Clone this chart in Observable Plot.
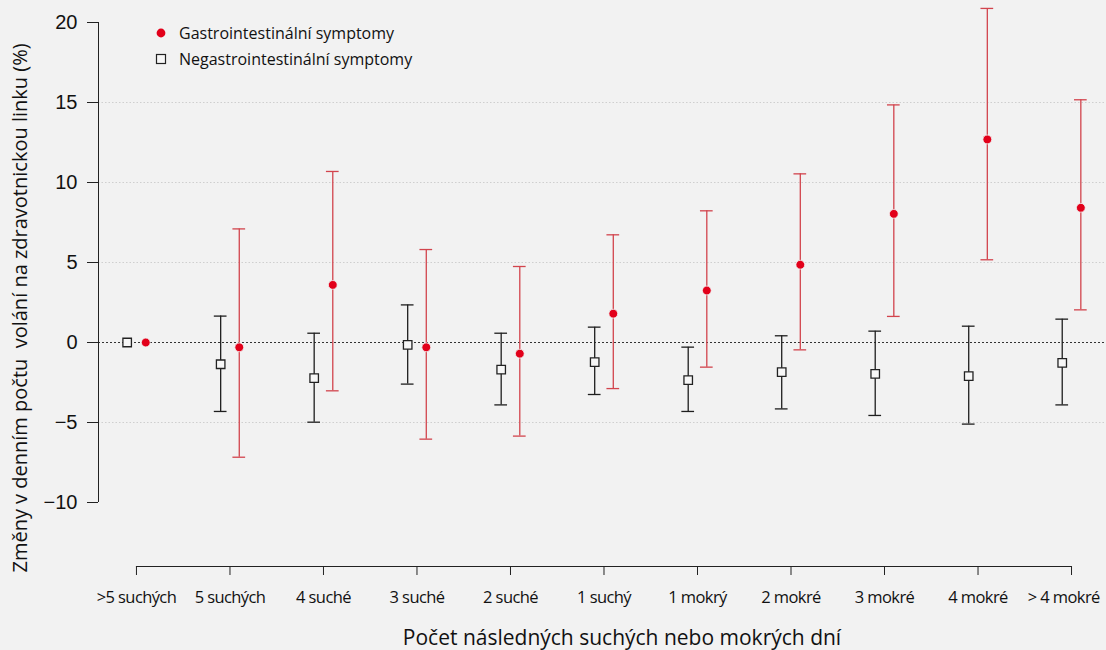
<!DOCTYPE html>
<html>
<head>
<meta charset="utf-8">
<script src="https://cdn.jsdelivr.net/npm/d3@7"></script>
<script src="https://cdn.jsdelivr.net/npm/@observablehq/plot@0.6"></script>
<style>
  html, body { margin: 0; padding: 0; background: #f2f2f2; }
  #wrap { position: relative; width: 1106px; height: 650px; background: #f2f2f2; overflow: hidden; }
  #ytitle { position: absolute; left: 19px; top: 308px; transform: translate(-50%, -50%) rotate(-90deg);
            white-space: pre; font-family: "Open Sans", sans-serif; font-size: 20px; font-weight: 500; color: #111; }
  #xtitle { position: absolute; left: 622px; top: 637px; transform: translate(-50%, -50%);
            white-space: pre; font-family: "Open Sans", sans-serif; font-size: 21px; color: #111; }
  #legend { position: absolute; left: 154px; top: 20px; font-family: "Open Sans", sans-serif; font-size: 16px; color: #111; }
  #legend .row { display: flex; align-items: center; height: 26px; }
  #legend svg { margin-right: 11px; }
</style>
</head>
<body>
<div id="wrap">
  <div id="chart"></div>
  <div id="ytitle"></div>
  <div id="xtitle"></div>
  <div id="legend"></div>
</div>
<script>
// Category tick labels
const categories = [">5 suchých", "5 suchých", "4 suché", "3 suché", "2 suché", "1 suchý",
                    "1 mokrý", "2 mokré", "3 mokré", "4 mokré", "> 4 mokré"];
// Gastrointestinal symptoms: estimate, lower and upper CI
const gastroEst = [0, -0.3, 3.6, -0.3, -0.7, 1.8, 3.25, 4.86, 8.04, 12.69, 8.42];
const gastroLo  = [null, -7.17, -3.02, -6.04, -5.85, -2.88, -1.54, -0.46, 1.63, 5.17, 2.04];
const gastroHi  = [null, 7.1, 10.69, 5.81, 4.75, 6.73, 8.23, 10.54, 14.85, 20.88, 15.17];
// Non-gastrointestinal symptoms
const nonEst = [0, -1.36, -2.23, -0.15, -1.69, -1.23, -2.35, -1.85, -1.96, -2.1, -1.27];
const nonLo  = [null, -4.31, -4.98, -2.6, -3.9, -3.25, -4.31, -4.15, -4.56, -5.1, -3.9];
const nonHi  = [null, 1.65, 0.58, 2.35, 0.58, 0.96, -0.29, 0.42, 0.71, 1.02, 1.46];
// Axis tick values
const yTicks = [-10, -5, 0, 5, 10, 15, 20];
const gridValues = [-5, 5, 10, 15];

const seriesLabels = ["Gastrointestinální symptomy", "Negastrointestinální symptomy"];
const yTitle = "Změny v denním počtu  volání na zdravotnickou linku (%)";
const xTitle = "Počet následných suchých nebo mokrých dní";

const gastro = categories.map((c, i) => ({i, est: gastroEst[i], lo: gastroLo[i], hi: gastroHi[i]}));
const non = categories.map((c, i) => ({i, est: nonEst[i], lo: nonLo[i], hi: nonHi[i]}));
const gastroBars = gastro.filter(d => d.lo != null);
const nonBars = non.filter(d => d.lo != null);

const xDomain = [-0.406, 10.374];
const yDomain = [-14, 21.375];
const cap = 0.068;
const off = 9.3;
const redLine = "#d2444d";
const redDot = "#e2001a";
const blk = "#1e1e1e";

const chart = Plot.plot({
  width: 1106,
  height: 618,
  marginLeft: 98,
  marginRight: 0,
  marginTop: 0,
  marginBottom: 52,
  style: {background: "transparent", overflow: "visible"},
  x: {type: "linear", domain: xDomain},
  y: {domain: yDomain},
  marks: [
    Plot.ruleY(gridValues, {stroke: "#cfcfcf", strokeDasharray: "1.5,2", strokeWidth: 1}),
    Plot.ruleY([0], {stroke: "#333", strokeDasharray: "2,2", strokeWidth: 1}),
    // y axis line
    Plot.ruleX([xDomain[0]], {y1: yTicks[0], y2: yTicks[yTicks.length - 1], stroke: "#222"}),
    Plot.axisY({ticks: yTicks, tickSize: 11, tickPadding: 10, fontSize: 20,
                fontFamily: "'Liberation Sans', Arial, sans-serif", label: null, stroke: "#222", color: "#111"}),
    // x axis line between first and last category
    Plot.ruleY([yDomain[0]], {x1: 0, x2: categories.length - 1, stroke: "#222"}),
    Plot.axisX({ticks: d3.range(categories.length), tickFormat: i => categories[i], tickSize: 9,
                tickPadding: 16, fontSize: 16.5, label: null, stroke: "#222", color: "#111",
                fontFamily: "'Open Sans', sans-serif", fontWeight: 500}),
    // non-GI error bars
    Plot.ruleX(nonBars, {x: "i", y1: "lo", y2: "hi", dx: -off, stroke: blk, strokeWidth: 1.3}),
    Plot.ruleY(nonBars, {y: "hi", x1: d => d.i - cap, x2: d => d.i + cap, dx: -off, stroke: blk, strokeWidth: 1.3}),
    Plot.ruleY(nonBars, {y: "lo", x1: d => d.i - cap, x2: d => d.i + cap, dx: -off, stroke: blk, strokeWidth: 1.3}),
    // GI error bars
    Plot.ruleX(gastroBars, {x: "i", y1: "lo", y2: "hi", dx: off, stroke: redLine, strokeWidth: 1.3}),
    Plot.ruleY(gastroBars, {y: "hi", x1: d => d.i - cap, x2: d => d.i + cap, dx: off, stroke: redLine, strokeWidth: 1.3}),
    Plot.ruleY(gastroBars, {y: "lo", x1: d => d.i - cap, x2: d => d.i + cap, dx: off, stroke: redLine, strokeWidth: 1.3}),
    // points
    Plot.dot(non, {x: "i", y: "est", dx: -off, symbol: "square", r: 4.8, fill: "#f7f7f7", stroke: "#222", strokeWidth: 1.3}),
    Plot.dot(gastro, {x: "i", y: "est", dx: off, r: 4.4, fill: redDot, stroke: "#f2f2f2", strokeWidth: 0.8})
  ]
});
document.getElementById("chart").appendChild(chart);

// narrow the x tick labels (the reference uses a condensed face) and keep them inside the picture
const svgBox = chart.getBoundingClientRect();
chart.querySelectorAll("text").forEach(t => {
  const txt = t.textContent;
  if (categories.includes(txt)) {
    t.setAttribute("letter-spacing", "-0.6");
    const b = t.getBoundingClientRect();
    const over = b.right - (svgBox.left + 1100);
    if (over > 0) t.setAttribute("dx", (-over).toFixed(1));
  }
});

document.getElementById("ytitle").textContent = yTitle;
document.getElementById("xtitle").textContent = xTitle;

const legend = document.getElementById("legend");
const sym = [
  '<svg width="14" height="14"><circle cx="7" cy="7" r="4.4" fill="' + redDot + '"/></svg>',
  '<svg width="14" height="14"><rect x="2.5" y="2.5" width="9" height="9" fill="#f7f7f7" stroke="#222" stroke-width="1.2"/></svg>'
];
seriesLabels.forEach((s, k) => {
  const row = document.createElement("div");
  row.className = "row";
  row.innerHTML = sym[k] + "<span></span>";
  row.querySelector("span").textContent = s;
  legend.appendChild(row);
});
</script>
</body>
</html>
